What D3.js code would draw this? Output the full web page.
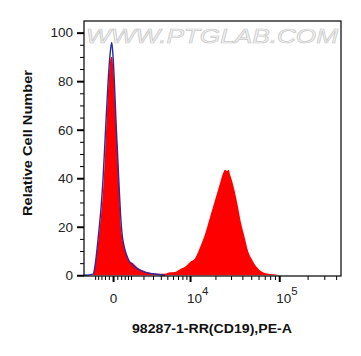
<!DOCTYPE html>
<html lang="en">
<head>
<meta charset="UTF-8">
<title>98287-1-RR(CD19),PE-A</title>
<script src="https://d3js.org/d3.v7.min.js"></script>
<style>
    body { margin: 0; background: #fff; }
    svg { display: block; }
    .tick-label { font-family: "Liberation Sans", Arial, sans-serif; font-size: 13.5px; fill: #222; }
    .axis-title { font-family: "Liberation Sans", Arial, sans-serif; font-size: 13.5px; font-weight: bold; fill: #111; }
</style>
</head>
<body>
<svg id="chart"></svg>
<script>
    // red histogram (stained sample)
    const redX = [-1147, -1006, -871, -743, -621, -505, -394, -288, -187, -91, -45, 22, 91, 163, 237, 314, 367, 449, 562, 681, 871, 1147, 1531, 1964, 2666, 3497, 4635, 5465, 6403, 7461, 8655, 10000, 11520, 13233, 15166, 17347, 19808, 22585, 24418, 25715, 27078, 28144, 29250, 30784, 33237, 35870, 38700, 42810, 46160, 51020, 56370, 62270, 72240, 90220, 107150];
    const redY = [0, 4, 10, 17, 25, 35, 50, 68, 83, 90, 90, 84, 72, 58, 45, 32, 22, 16, 12, 9, 6, 5, 3, 2, 1, 0.6, 0.6, 1.2, 1.4, 2.5, 3.5, 5.5, 7, 11.5, 17, 24, 31, 38, 42, 43.5, 43, 43.5, 41.5, 39, 34, 28, 21.5, 15, 10, 6.5, 3.7, 2, 0.8, 0.3, 0];

    // blue histogram (control)
    const blueX = [-1880, -1147, -1006, -871, -743, -621, -505, -394, -288, -187, -115, -59, 0, 68, 139, 212, 288, 367, 449, 562, 681, 871, 1147, 1531, 1964, 2666, 3497, 4635];
    const blueY = [0, 0.5, 4, 11, 19, 28, 40, 56, 72, 86, 93, 96, 90, 78, 63, 50, 37, 25, 17, 12, 9, 6, 4, 2.5, 1.5, 0.8, 0.4, 0];

    const xMajor = [0, 1e4, 1e5];
    const xMajorExp = [null, 4, 5];
    const xMinor = [-1000, -800, -600, -400, -200, 200, 400, 600, 800, 1000,
        2000, 3000, 4000, 5000, 6000, 7000, 8000, 9000,
        20000, 30000, 40000, 50000, 60000, 70000, 80000, 90000,
        200000, 300000, 400000];
    const yMajor = [0, 20, 40, 60, 80, 100];
    const yMinor = d3.range(0, 105, 5).filter(v => v % 20 !== 0);

    const width = 361, height = 356;
    const plot = { left: 84, right: 341, top: 21, bottom: 276 };

    const svg = d3.select("#chart").attr("width", width).attr("height", height);

    const x = d3.scaleSymlog().constant(1850)
        .domain([-1880, 450000])
        .range([plot.left, plot.right]);
    const y = d3.scaleLinear()
        .domain([-0.3, 104.8])
        .range([plot.bottom, plot.top]);

    // watermark
    svg.append("text")
        .attr("x", plot.left + 2).attr("y", 43)
        .attr("textLength", 252)
        .attr("lengthAdjust", "spacingAndGlyphs")
        .style("font-family", "'Liberation Sans', Arial, sans-serif")
        .style("font-size", "21px")
        .style("font-style", "italic")
        .style("fill", "#f4f4f4")
        .style("stroke", "#c9c9c9")
        .style("stroke-width", 0.7)
        .text("WWW.PTGLAB.COM");

    const red = redX.map((v, i) => [v, redY[i]]);
    const blue = blueX.map((v, i) => [v, blueY[i]]);

    svg.append("path")
        .datum(red)
        .attr("fill", "#ff0000")
        .attr("d", d3.area().x(d => x(d[0])).y0(y(0)).y1(d => y(d[1])).curve(d3.curveMonotoneX));

    svg.append("path")
        .datum(blue)
        .attr("fill", "none")
        .attr("stroke", "#2a2aa8")
        .attr("stroke-width", 1.4)
        .attr("d", d3.line().x(d => x(d[0])).y(d => y(d[1])).curve(d3.curveMonotoneX));

    // frame
    svg.append("rect")
        .attr("x", plot.left).attr("y", plot.top)
        .attr("width", plot.right - plot.left).attr("height", plot.bottom - plot.top)
        .attr("fill", "none").attr("stroke", "#000").attr("stroke-width", 1.2);

    // y axis
    const yAx = svg.append("g").attr("transform", `translate(${plot.left},0)`);
    yAx.call(d3.axisLeft(y).tickValues(yMajor).tickSize(7).tickPadding(4))
        .call(g => g.select(".domain").remove())
        .call(g => g.selectAll(".tick line").attr("stroke", "#000").attr("stroke-width", 2))
        .call(g => g.selectAll(".tick text").attr("class", "tick-label").attr("font-family", null).attr("font-size", null).attr("fill", null));
    svg.append("g").attr("transform", `translate(${plot.left},0)`)
        .call(d3.axisLeft(y).tickValues(yMinor).tickSize(4).tickFormat(""))
        .call(g => g.select(".domain").remove())
        .call(g => g.selectAll(".tick line").attr("stroke", "#000").attr("stroke-width", 1));

    // x axis
    const xAx = svg.append("g").attr("transform", `translate(0,${plot.bottom})`);
    xAx.call(d3.axisBottom(x).tickValues(xMajor).tickSize(6).tickFormat(""))
        .call(g => g.select(".domain").remove())
        .call(g => g.selectAll(".tick line").attr("stroke", "#000").attr("stroke-width", 2));
    svg.append("g").attr("transform", `translate(0,${plot.bottom})`)
        .call(d3.axisBottom(x).tickValues(xMinor).tickSize(4).tickFormat(""))
        .call(g => g.select(".domain").remove())
        .call(g => g.selectAll(".tick line").attr("stroke", "#000").attr("stroke-width", 1));

    xMajor.forEach((v, i) => {
        const t = svg.append("text").attr("class", "tick-label").attr("y", 303);
        if (xMajorExp[i] === null) {
            t.attr("x", x(v) + 0.5).attr("text-anchor", "middle").text("0");
        } else {
            t.attr("x", x(v) - 3).attr("text-anchor", "start").text("10");
            t.append("tspan").attr("dy", -8).style("font-size", "11.5px").text(xMajorExp[i]);
        }
    });

    svg.append("text")
        .attr("class", "axis-title")
        .attr("text-anchor", "middle")
        .attr("x", 212).attr("y", 333)
        .attr("textLength", 160)
        .attr("lengthAdjust", "spacingAndGlyphs")
        .text("98287-1-RR(CD19),PE-A");

    svg.append("text")
        .attr("class", "axis-title")
        .attr("text-anchor", "middle")
        .attr("transform", "translate(32,143) rotate(-90)")
        .attr("textLength", 146)
        .attr("lengthAdjust", "spacingAndGlyphs")
        .text("Relative Cell Number");
</script>
</body>
</html>
